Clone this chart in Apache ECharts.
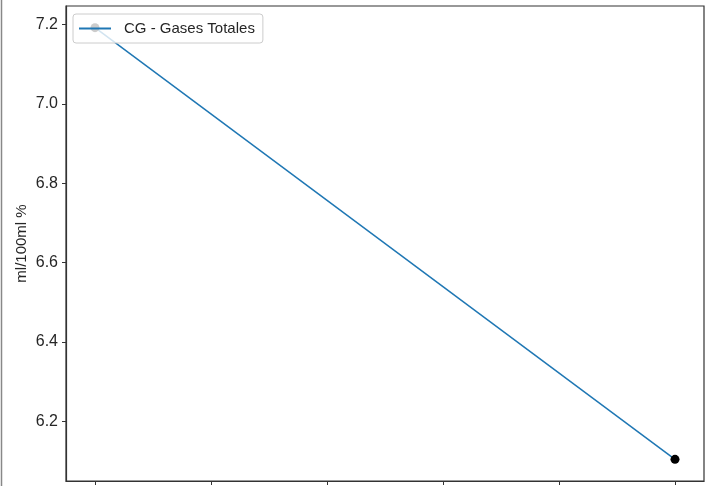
<!DOCTYPE html>
<html>
<head>
<meta charset="utf-8">
<script src="https://cdn.jsdelivr.net/npm/echarts@6/dist/echarts.min.js"></script>
<style>html,body{margin:0;padding:0;background:#fff;}#c{width:712px;height:486px;}</style>
</head>
<body>
<div id="c"></div>
<script>
const seriesName = 'CG - Gases Totales';
const xValues = [0, 5];
const yValues = [7.192, 6.104];
const xTicks = [0, 1, 2, 3, 4, 5];
const yTicks = [6.2, 6.4, 6.6, 6.8, 7.0, 7.2];
const yAxisTitle = 'ml/100ml %';

const font = 'Liberation Sans, Arial, Helvetica, sans-serif';
const chart = echarts.init(document.getElementById('c'), null, {renderer: 'canvas'});
chart.setOption({
  animation: false,
  backgroundColor: '#fff',
  graphic: [{type: 'line', shape: {x1: 1.5, y1: 0, x2: 1.5, y2: 486}, style: {stroke: '#888', lineWidth: 1.5}}],
  grid: {left: 66, top: 6, right: 8, bottom: 5, show: true, borderColor: '#333', borderWidth: 1.2, backgroundColor: 'transparent'},
  legend: {
    left: 73, top: 14, orient: 'vertical',
    padding: [7, 8, 7, 6],
    backgroundColor: 'rgba(255,255,255,0.8)',
    borderColor: '#ccc', borderWidth: 1, borderRadius: 3,
    itemWidth: 32, itemHeight: 2, itemGap: 6,
    textStyle: {fontFamily: font, fontSize: 15, color: '#262626', padding: [0, 0, 0, 8]},
    data: [{name: seriesName, icon: 'rect', itemStyle: {color: '#1f77b4'}}]
  },
  xAxis: {
    type: 'value', min: -0.25, max: 5.25,
    axisLine: {show: true, onZero: false, lineStyle: {color: '#333', width: 1.2}},
    axisTick: {show: true, length: 4, lineStyle: {color: '#333'}, customValues: xTicks},
    axisLabel: {show: false, customValues: xTicks},
    splitLine: {show: false}
  },
  yAxis: {
    type: 'value', min: 6.0495, max: 7.2466,
    name: yAxisTitle, nameLocation: 'middle', nameGap: 37, nameRotate: 90,
    nameMoveOverlap: false,
    nameTextStyle: {fontFamily: font, fontSize: 15, color: '#262626'},
    axisLine: {show: true, onZero: false, lineStyle: {color: '#333', width: 1.2}},
    axisTick: {show: true, length: 4, lineStyle: {color: '#333'}, customValues: yTicks},
    axisLabel: {customValues: yTicks, fontFamily: font, fontSize: 16, color: '#262626', margin: 8,
      formatter: v => v.toFixed(1)},
    splitLine: {show: false}
  },
  series: [{
    name: seriesName, type: 'line',
    data: xValues.map((x, i) => [x, yValues[i]]),
    symbol: 'circle', symbolSize: 9,
    itemStyle: {color: '#000'},
    lineStyle: {color: '#1f77b4', width: 1.5},
    z: 2
  }]
});
</script>
</body>
</html>
